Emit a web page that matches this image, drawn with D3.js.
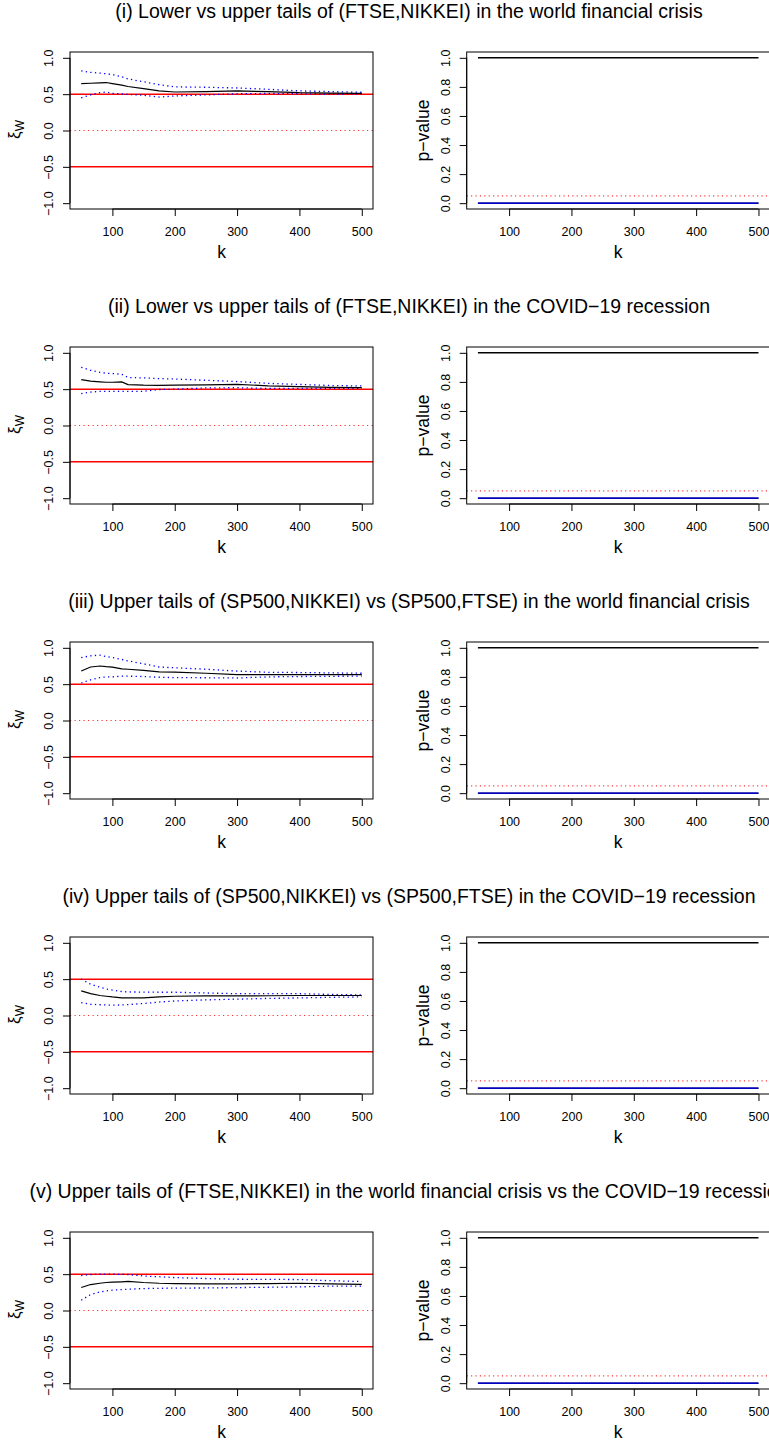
<!DOCTYPE html>
<html>
<head>
<meta charset="utf-8">
<script src="https://cdn.jsdelivr.net/npm/d3@7"></script>
<style>
body{margin:0;background:#fff}
text{font-family:"Liberation Sans",Arial,sans-serif;fill:#000}
</style>
</head>
<body>
<svg id="chart"></svg>
<script>
var screen = {width: 769, height: 1441}

var kValues = [50,65,80,90,100,115,125,150,175,200,250,300,350,400,450,500]

var titles = [
  "(i) Lower vs upper tails of (FTSE,NIKKEI) in the world financial crisis",
  "(ii) Lower vs upper tails of (FTSE,NIKKEI) in the COVID\u221219 recession",
  "(iii) Upper tails of (SP500,NIKKEI) vs (SP500,FTSE) in the world financial crisis",
  "(iv) Upper tails of (SP500,NIKKEI) vs (SP500,FTSE) in the COVID\u221219 recession",
  "(v) Upper tails of (FTSE,NIKKEI) in the world financial crisis vs the COVID\u221219 recession"
]

// xi_W estimates and the two dotted bounds
var est1 = [0.645,0.65,0.655,0.66,0.645,0.625,0.605,0.577,0.545,0.53,0.535,0.545,0.535,0.52,0.515,0.51]
var upper1 = [0.82,0.80,0.79,0.78,0.77,0.74,0.71,0.67,0.63,0.60,0.595,0.585,0.567,0.545,0.535,0.526]
var lower1 = [0.45,0.49,0.52,0.53,0.51,0.505,0.495,0.485,0.46,0.475,0.49,0.505,0.51,0.505,0.50,0.505]

var est2 = [0.63,0.61,0.60,0.595,0.595,0.60,0.563,0.555,0.553,0.555,0.56,0.567,0.545,0.535,0.525,0.52]
var upper2 = [0.80,0.76,0.73,0.72,0.715,0.705,0.66,0.655,0.645,0.64,0.622,0.605,0.58,0.565,0.55,0.544]
var lower2 = [0.44,0.46,0.47,0.47,0.47,0.47,0.47,0.47,0.495,0.50,0.517,0.52,0.51,0.51,0.51,0.51]

var est3 = [0.68,0.736,0.75,0.74,0.735,0.71,0.705,0.69,0.668,0.665,0.65,0.632,0.632,0.632,0.632,0.632]
var upper3 = [0.865,0.89,0.90,0.88,0.865,0.84,0.82,0.78,0.736,0.725,0.705,0.68,0.663,0.66,0.655,0.65]
var lower3 = [0.516,0.56,0.59,0.60,0.60,0.61,0.61,0.605,0.595,0.59,0.588,0.585,0.60,0.605,0.608,0.61]

var est4 = [0.338,0.30,0.275,0.265,0.255,0.243,0.242,0.242,0.255,0.265,0.27,0.27,0.272,0.275,0.275,0.275]
var upper4 = [0.50,0.43,0.39,0.365,0.35,0.33,0.324,0.322,0.32,0.32,0.31,0.30,0.30,0.30,0.29,0.283]
var lower4 = [0.178,0.155,0.148,0.145,0.142,0.145,0.15,0.165,0.185,0.20,0.215,0.225,0.235,0.242,0.25,0.256]

var est5 = [0.316,0.357,0.375,0.385,0.39,0.395,0.40,0.385,0.375,0.37,0.367,0.367,0.37,0.375,0.365,0.36]
var upper5 = [0.48,0.495,0.50,0.50,0.50,0.497,0.495,0.475,0.465,0.453,0.44,0.43,0.428,0.426,0.41,0.398]
var lower5 = [0.141,0.22,0.255,0.27,0.28,0.288,0.292,0.302,0.305,0.308,0.31,0.315,0.32,0.325,0.335,0.334]

// p-values (same in every row)
var pHigh = [1,1,1,1,1,1,1,1,1,1,1,1,1,1,1,1]
var pLow = [0,0,0,0,0,0,0,0,0,0,0,0,0,0,0,0]

var xTicks = [100,200,300,400,500]
var xiTicks = [-1,-0.5,0,0.5,1]
var pTicks = [0,0.2,0.4,0.6,0.8,1]
var xiRefSolid = [0.5,-0.5]
var xiRefDotted = [0]
var pRefDotted = [0.05]

var rows = [
  {est:est1, up:upper1, lo:lower1},
  {est:est2, up:upper2, lo:lower2},
  {est:est3, up:upper3, lo:lower3},
  {est:est4, up:upper4, lo:lower4},
  {est:est5, up:upper5, lo:lower5}
]

var rowStep = 295
var box = {top:52, height:157}
var leftBox = {x:70, w:303}
var rightBox = {x:466.7, w:303}

var svg = d3.select("#chart")
    .attr("width", screen.width)
    .attr("height", screen.height)

var fmt = d3.format(".1f")

var drawFrame = function(g, xScale, yScale, ticks, bx)
{
    g.append("rect")
        .attr("x", bx.x).attr("y", box.top)
        .attr("width", bx.w).attr("height", box.height)
        .attr("fill", "none").attr("stroke", "#000").attr("stroke-width", 1)

    var xAxis = d3.axisBottom(xScale).tickValues(xTicks).tickSize(7).tickPadding(11).tickFormat(d3.format("d"))
    var xg = g.append("g")
        .attr("transform", "translate(0," + (box.top + box.height) + ")")
        .call(xAxis)
    xg.select(".domain").attr("d", "M" + xScale(100) + ",0H" + xScale(500)).attr("stroke", "#000")
    xg.selectAll("text").attr("font-size", "12.5px").attr("fill", "#000")
        .attr("font-family", "Liberation Sans, Arial, sans-serif")

    var yAxis = d3.axisLeft(yScale).tickValues(ticks).tickSize(7).tickFormat(fmt)
    var yg = g.append("g")
        .attr("transform", "translate(" + bx.x + ",0)")
        .call(yAxis)
    yg.select(".domain").attr("d", "M0," + yScale(ticks[0]) + "V" + yScale(ticks[ticks.length - 1])).attr("stroke", "#000")
    yg.selectAll(".tick text")
        .attr("font-size", "12.5px").attr("fill", "#000")
        .attr("font-family", "Liberation Sans, Arial, sans-serif")
        .attr("x", null).attr("dy", null)
        .attr("text-anchor", "middle")
        .attr("transform", "translate(-17,0) rotate(-90)")

    g.append("text")
        .attr("x", bx.x + bx.w / 2).attr("y", box.top + box.height + 49)
        .attr("text-anchor", "middle").attr("font-size", "17.5px")
        .text("k")
}

var line = function(xScale, yScale)
{
    return d3.line()
        .x(function(d, i){ return xScale(kValues[i]) })
        .y(function(d){ return yScale(d) })
}

rows.forEach(function(row, r)
{
    var g = svg.append("g").attr("transform", "translate(0," + (r * rowStep) + ")")

    g.append("text")
        .attr("x", 409).attr("y", 18)
        .attr("text-anchor", "middle").attr("font-size", "19.5px")
        .text(titles[r])

    // left panel: xi_W
    var xL = d3.scaleLinear().domain([32, 518]).range([leftBox.x, leftBox.x + leftBox.w])
    var yL = d3.scaleLinear().domain([-1.08, 1.08]).range([box.top + box.height, box.top])
    var left = g.append("g")

    left.selectAll(".refsolid").data(xiRefSolid).enter().append("line")
        .attr("x1", leftBox.x).attr("x2", leftBox.x + leftBox.w)
        .attr("y1", function(d){ return yL(d) }).attr("y2", function(d){ return yL(d) })
        .attr("stroke", "#ff0000").attr("stroke-width", 1.5)
    left.selectAll(".refdot").data(xiRefDotted).enter().append("line")
        .attr("x1", leftBox.x).attr("x2", leftBox.x + leftBox.w)
        .attr("y1", function(d){ return yL(d) }).attr("y2", function(d){ return yL(d) })
        .attr("stroke", "#ff3030").attr("stroke-width", 1.2).attr("stroke-dasharray", "1.2,3.3")

    left.selectAll(".band").data([row.up, row.lo]).enter().append("path")
        .attr("d", line(xL, yL))
        .attr("fill", "none").attr("stroke", "#0000ff").attr("stroke-width", 1.3)
        .attr("stroke-dasharray", "1.3,3.3")
    left.append("path").datum(row.est)
        .attr("d", line(xL, yL))
        .attr("fill", "none").attr("stroke", "#000").attr("stroke-width", 1.2)

    drawFrame(left, xL, yL, xiTicks, leftBox)

    var lab = left.append("text")
        .attr("transform", "translate(20," + (box.top + box.height / 2 - 1) + ") rotate(-90)")
        .attr("text-anchor", "middle").attr("font-size", "17px")
    lab.append("tspan").text("\u03be")
    lab.append("tspan").attr("font-size", "12px").attr("dy", 4).text("W")

    // right panel: p-values
    var xR = d3.scaleLinear().domain([32, 518]).range([rightBox.x, rightBox.x + rightBox.w])
    var yR = d3.scaleLinear().domain([-0.04, 1.04]).range([box.top + box.height, box.top])
    var right = g.append("g")

    right.selectAll(".pref").data(pRefDotted).enter().append("line")
        .attr("x1", rightBox.x).attr("x2", rightBox.x + rightBox.w)
        .attr("y1", function(d){ return yR(d) }).attr("y2", function(d){ return yR(d) })
        .attr("stroke", "#ff3030").attr("stroke-width", 1.1).attr("stroke-dasharray", "1.1,3.3")

    right.selectAll(".pline").data([pHigh, pLow]).enter().append("path")
        .attr("d", line(xR, yR))
        .attr("fill", "none").attr("stroke", "#000").attr("stroke-width", 1.4)
    right.append("path").datum(pLow)
        .attr("d", line(xR, yR))
        .attr("fill", "none").attr("stroke", "#0000ff").attr("stroke-width", 1.2)

    drawFrame(right, xR, yR, pTicks, rightBox)

    right.append("text")
        .attr("transform", "translate(429," + (box.top + box.height / 2) + ") rotate(-90)")
        .attr("text-anchor", "middle").attr("font-size", "17.5px")
        .text("p\u2212value")
})
</script>
</body>
</html>
